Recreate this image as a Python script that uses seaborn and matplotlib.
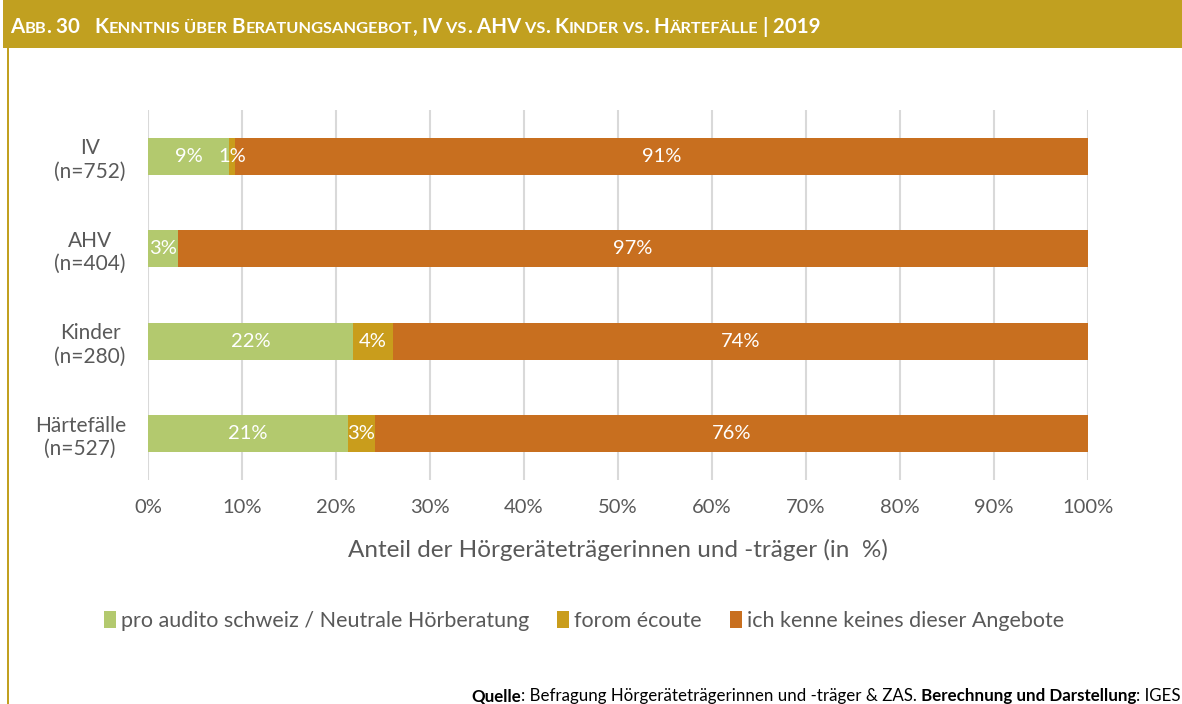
import re
import pandas as pd
import seaborn as sns
import matplotlib.pyplot as plt
from matplotlib.patches import Rectangle, Patch
from matplotlib.offsetbox import TextArea, HPacker, AnchoredOffsetbox

# data
categories = ["IV\n(n=752)", "AHV\n(n=404)", "Kinder\n(n=280)", "Härtefälle\n(n=527)"]
pro_audito = [8.6, 3.2, 21.8, 21.3]
forom = [0.7, 0.0, 4.3, 2.8]
keines = [90.7, 96.8, 73.9, 75.9]
series_names = ["pro audito schweiz / Neutrale Hörberatung", "forom écoute", "ich kenne keines dieser Angebote"]
x_ticks = list(range(0, 101, 10))

colors = ["#B3C96E", "#C99D1C", "#C86F1F"]
gold = "#C1A020"
grey = "#595959"

sns.set_theme(style="white")
plt.rcParams['font.family'] = ['Lato', 'DejaVu Sans']

df = pd.DataFrame({"cat": categories, "green": pro_audito, "gold": forom, "orange": keines})
df["c1"] = df["green"]
df["c2"] = df["green"] + df["gold"]
df["c3"] = df["c2"] + df["orange"]

fig = plt.figure(figsize=(11.82, 7.04), dpi=100)
ax = fig.add_axes([148/1182, 1-480/704, 940/1182, 370/704])

# stacked bars: draw cumulative totals, largest first
for col, c in zip(["c3", "c2", "c1"], colors[::-1]):
    sns.barplot(data=df, x=col, y="cat", orient="h", color=c, width=0.4,
                saturation=1, ax=ax, linewidth=0, zorder=3)

# segment labels
for i, row in df.iterrows():
    starts = [0, row["c1"], row["c2"]]
    for s, v in zip(starts, [row["green"], row["gold"], row["orange"]]):
        if v <= 0:
            continue
        ax.text(s + v/2, i, f"{round(v)}%", ha="center", va="center",
                color="white", fontsize=14.5, zorder=4)

ax.set_xlim(0, 100)
ax.set_ylim(3.5, -0.5)
ax.set_xticks(x_ticks)
ax.set_xticklabels([f"{t}%" for t in x_ticks], fontsize=14.5, color=grey)
ax.tick_params(axis="y", labelsize=15, labelcolor=grey, length=0, pad=16)
ax.tick_params(axis="x", length=0, pad=14)
for lab in ax.get_yticklabels():
    lab.set_multialignment("center")
ax.set_ylabel("")
ax.set_xlabel("Anteil der Hörgeräteträgerinnen und -träger (in  %)", fontsize=17.5, color=grey, labelpad=16)
ax.grid(axis="x", color="#D9D9D9", linewidth=1.5, zorder=0)
ax.set_axisbelow(True)
sns.despine(ax=ax, left=True, bottom=True)

# legend
handles = [Patch(facecolor=c, edgecolor="none") for c in colors]
fig.legend(handles, series_names, loc="center", bbox_to_anchor=(584/1182, 1-621/704),
           ncol=3, frameon=False, fontsize=15.5, labelcolor=grey, handlelength=0.55,
           handleheight=0.85, handletextpad=0.25, columnspacing=1.3)

# title bar + left border
fig.add_artist(Rectangle((3/1182, 1-48/704), 1, 48/704, transform=fig.transFigure,
                         facecolor=gold, edgecolor="none"))
fig.add_artist(Rectangle((7/1182, 0), 2/1182, 1-48/704, transform=fig.transFigure,
                         facecolor=gold, edgecolor="none"))

title = "Abb. 30   Kenntnis über Beratungsangebot, IV vs. AHV vs. Kinder vs. Härtefälle | 2019"
parts = []
for tok in re.findall(r"\s*[a-zäöüé]+|\s*[^a-zäöüé\s]+", title):
    small = re.search(r"[a-zäöüé]", tok) is not None
    parts.append(TextArea(tok.upper(), textprops=dict(color="white", fontweight="bold",
                 fontsize=11.8 if small else 14.8)))
title_box = HPacker(children=parts, align="baseline", pad=0, sep=0)
fig.add_artist(AnchoredOffsetbox(loc="center left", child=title_box, pad=0, borderpad=0,
               frameon=False, bbox_to_anchor=(10/1182, 1-27/704), bbox_transform=fig.transFigure))

# source line
src = [("Quelle", "bold"), (": Befragung Hörgeräteträgerinnen und -träger & ZAS.", "normal"),
       (" Berechnung und Darstellung", "bold"), (": IGES", "normal")]
src_box = HPacker(children=[TextArea(t, textprops=dict(color="black", fontweight=w, fontsize=12.2))
                            for t, w in src], align="baseline", pad=0, sep=0)
fig.add_artist(AnchoredOffsetbox(loc="lower right", child=src_box, pad=0, borderpad=0,
               frameon=False, bbox_to_anchor=(1181/1182, 0), bbox_transform=fig.transFigure))

fig.savefig("out.png", dpi=100)
